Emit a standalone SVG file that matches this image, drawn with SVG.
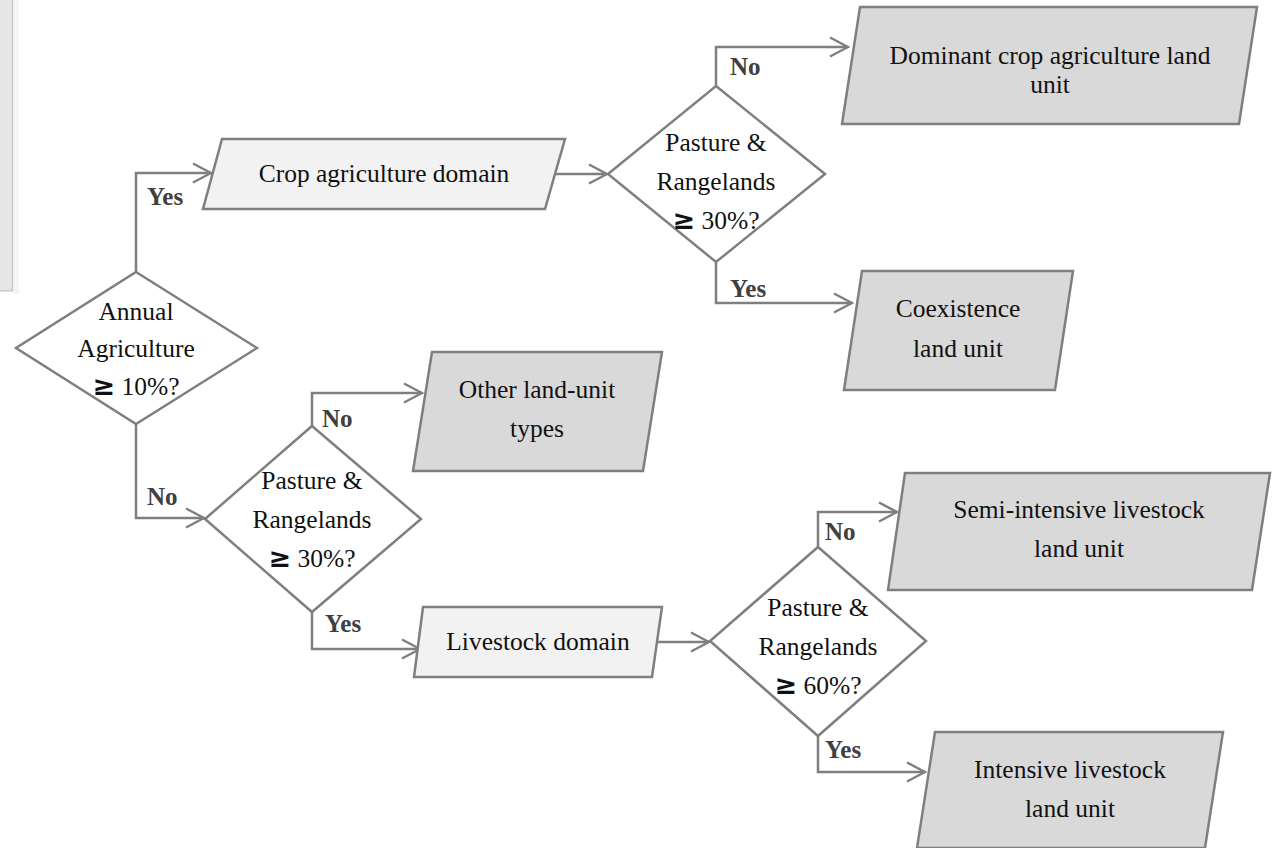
<svg xmlns="http://www.w3.org/2000/svg" width="1272" height="848" viewBox="0 0 1272 848">
<style>
.bg{fill:#ffffff}
.dom{fill:#f2f2f2;stroke:#7f7f7f;stroke-width:2.5}
.out{fill:#d9d9d9;stroke:#7f7f7f;stroke-width:2.5}
.dia{fill:#ffffff;stroke:#7f7f7f;stroke-width:2.5}
.conn{fill:none;stroke:#7f7f7f;stroke-width:2.5}
.t{font-family:"Liberation Serif","Times New Roman",serif;font-size:25.5px;fill:#111111;text-anchor:middle}
.ge{font-family:"DejaVu Sans","Liberation Sans",sans-serif;font-weight:bold;font-size:27px}
.lbl{font-family:"Liberation Serif","Times New Roman",serif;font-size:25px;font-weight:bold;fill:#404040}
</style>
<defs>
<marker id="arr" viewBox="0 0 22 22" markerWidth="22" markerHeight="22" refX="20" refY="11" orient="auto" markerUnits="userSpaceOnUse">
<path d="M2,1.5 L20,11 L2,20.5" fill="none" stroke="#7f7f7f" stroke-width="2.5"/>
</marker>
</defs>
<rect class="bg" x="0" y="0" width="1272" height="848"/>
<g id="artifact">
<rect x="13" y="-2" width="6" height="296" fill="#f4f4f4"/>
<rect x="-5" y="-5" width="17.5" height="296" fill="#e6e6e6" stroke="#c4c4c4" stroke-width="1.2"/>
</g>
<g id="connectors">
<path class="conn" d="M136,272 V173 H211" marker-end="url(#arr)"/>
<path class="conn" d="M136,425 V518 H204" marker-end="url(#arr)"/>
<path class="conn" d="M555,174 H607" marker-end="url(#arr)"/>
<path class="conn" d="M716,86 V47 H848" marker-end="url(#arr)"/>
<path class="conn" d="M716,262 V303 H852" marker-end="url(#arr)"/>
<path class="conn" d="M312,426 V393 H422" marker-end="url(#arr)"/>
<path class="conn" d="M312,612 V649 H420" marker-end="url(#arr)"/>
<path class="conn" d="M657,642 H709" marker-end="url(#arr)"/>
<path class="conn" d="M818,547 V512 H897" marker-end="url(#arr)"/>
<path class="conn" d="M818,736 V772 H925" marker-end="url(#arr)"/>
<text class="lbl" x="147" y="205">Yes</text>
<text class="lbl" x="147" y="505">No</text>
<text class="lbl" x="730" y="75">No</text>
<text class="lbl" x="730" y="297">Yes</text>
<text class="lbl" x="322" y="427">No</text>
<text class="lbl" x="325" y="632">Yes</text>
<text class="lbl" x="825" y="540">No</text>
<text class="lbl" x="825" y="758">Yes</text>
</g>
<g id="annual">
<polygon class="dia" points="136,272 257,348 136,424 16,348"/>
<text class="t" x="136" y="320">Annual</text>
<text class="t" x="136" y="357">Agriculture</text>
<text class="t" x="136" y="395"><tspan class="ge">≥</tspan> 10%?</text>
</g>
<g id="crop-domain">
<polygon class="dom" points="222,139 565,139 545,209 203,209"/>
<text class="t" x="384" y="182">Crop agriculture domain</text>
</g>
<g id="pasture30-top">
<polygon class="dia" points="716,86 825,174 716,262 608,174"/>
<text class="t" x="716" y="151">Pasture &amp;</text>
<text class="t" x="716" y="190">Rangelands</text>
<text class="t" x="716" y="229"><tspan class="ge">≥</tspan> 30%?</text>
</g>
<g id="dominant-crop">
<polygon class="out" points="860,7 1257,7 1239,124 842,124"/>
<text class="t" x="1050" y="64">Dominant crop agriculture land</text>
<text class="t" x="1050" y="93">unit</text>
</g>
<g id="coexistence">
<polygon class="out" points="862,271 1073,271 1055,390 844,390"/>
<text class="t" x="958" y="317">Coexistence</text>
<text class="t" x="958" y="357">land unit</text>
</g>
<g id="pasture30-bottom">
<polygon class="dia" points="312,426 421,519 312,612 205,519"/>
<text class="t" x="312" y="489">Pasture &amp;</text>
<text class="t" x="312" y="528">Rangelands</text>
<text class="t" x="312" y="567"><tspan class="ge">≥</tspan> 30%?</text>
</g>
<g id="other-types">
<polygon class="out" points="432,352 662,352 643,471 413,471"/>
<text class="t" x="537" y="398">Other land-unit</text>
<text class="t" x="537" y="437">types</text>
</g>
<g id="livestock-domain">
<polygon class="dom" points="423,607 662,607 652,677 414,677"/>
<text class="t" x="538" y="650">Livestock domain</text>
</g>
<g id="pasture60">
<polygon class="dia" points="818,547 926,641 818,736 710,641"/>
<text class="t" x="818" y="616">Pasture &amp;</text>
<text class="t" x="818" y="655">Rangelands</text>
<text class="t" x="818" y="694"><tspan class="ge">≥</tspan> 60%?</text>
</g>
<g id="semi-intensive">
<polygon class="out" points="905,473 1270,473 1252,590 888,590"/>
<text class="t" x="1079" y="518">Semi-intensive livestock</text>
<text class="t" x="1079" y="557">land unit</text>
</g>
<g id="intensive">
<polygon class="out" points="935,732 1223,732 1205,848 917,848"/>
<text class="t" x="1070" y="778">Intensive livestock</text>
<text class="t" x="1070" y="817">land unit</text>
</g>
</svg>
